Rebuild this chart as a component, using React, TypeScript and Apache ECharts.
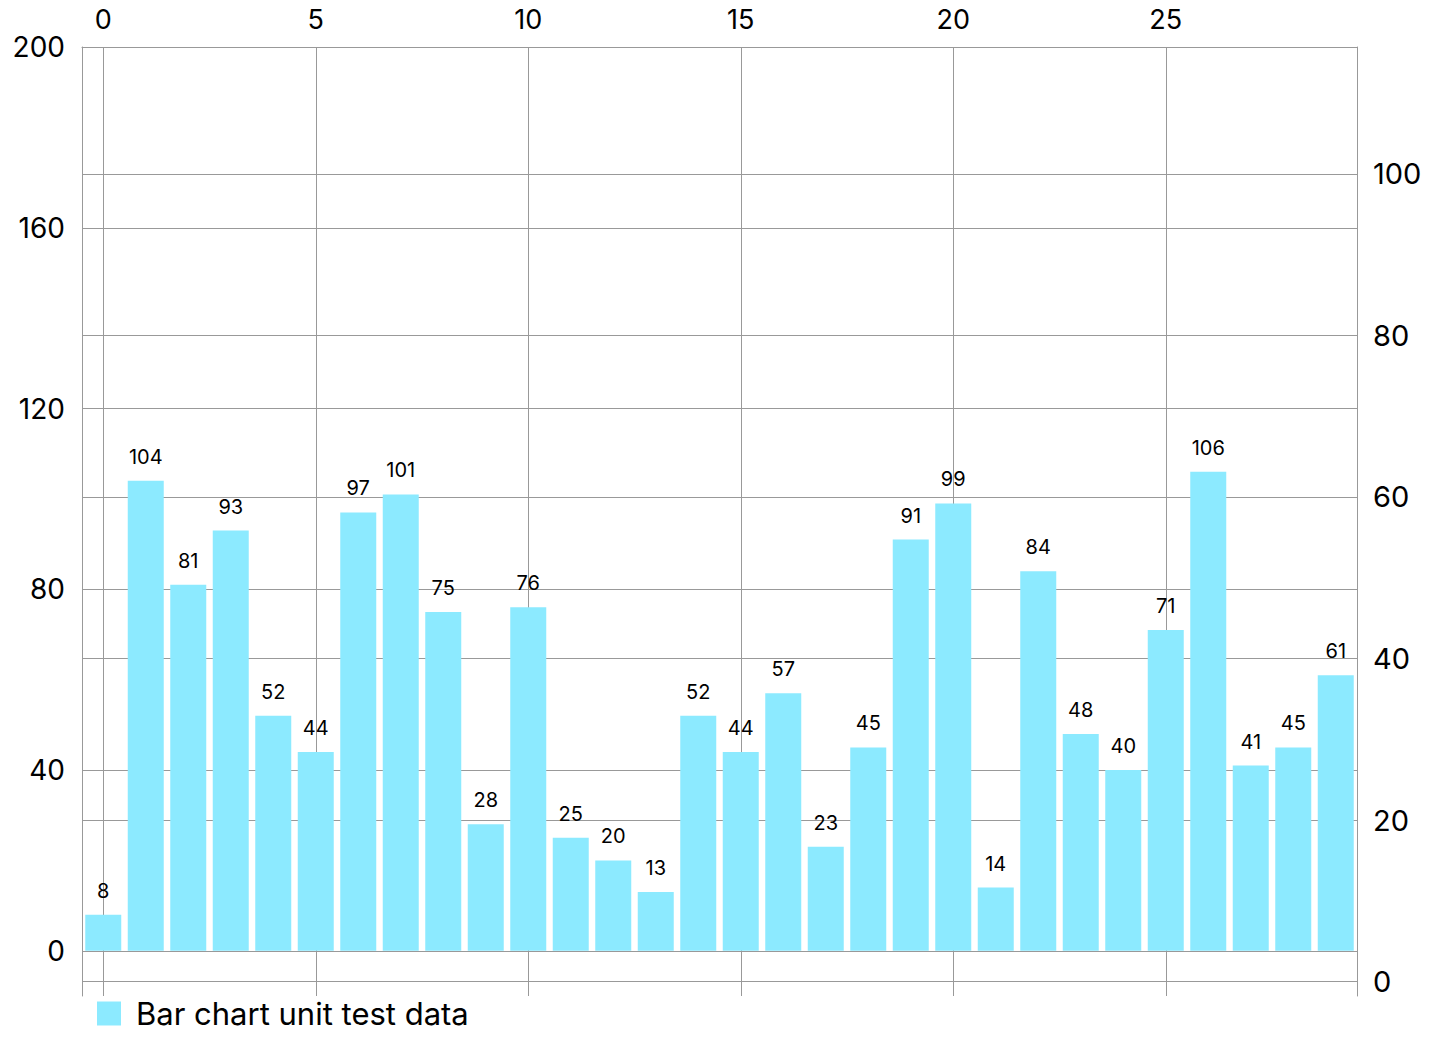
import React, { useEffect, useRef } from "react";
import * as echarts from "echarts";

const xIndices = [0, 1, 2, 3, 4, 5, 6, 7, 8, 9, 10, 11, 12, 13, 14, 15, 16, 17, 18, 19, 20, 21, 22, 23, 24, 25, 26, 27, 28, 29];
const barValues = [8, 104, 81, 93, 52, 44, 97, 101, 75, 28, 76, 25, 20, 13, 52, 44, 57, 23, 45, 91, 99, 14, 84, 48, 40, 71, 106, 41, 45, 61];
const xTicks = [0, 5, 10, 15, 20, 25];
const leftTicks = [0, 40, 80, 120, 160, 200];
const rightTicks = [0, 20, 40, 60, 80, 100];
const seriesName = "Bar chart unit test data";

const FONT = "Inter";
const GRID = "#999999";

export default function App() {
  const ref = useRef<HTMLDivElement>(null);
  useEffect(() => {
    if (!ref.current) return;
    const chart = echarts.init(ref.current, null, { renderer: "svg" });
    const lineStyle = { color: GRID, width: 1 };
    chart.setOption({
      animation: false,
      backgroundColor: "#ffffff",
      grid: { left: 82, right: 83, top: 47, bottom: 54, containLabel: false },
      legend: {
        show: true,
        left: 97,
        top: 998,
        padding: 0,
        itemWidth: 24,
        itemHeight: 24,
        icon: "rect",
        data: [seriesName],
        textStyle: { fontFamily: FONT, fontSize: 31, color: "#000", padding: [0, 0, 0, 10] },
      },
      xAxis: {
        type: "value",
        position: "top",
        min: -0.5,
        max: 29.5,
        axisLine: { show: true, onZero: false, lineStyle },
        axisTick: { show: false, customValues: xTicks },
        axisLabel: { customValues: xTicks, fontFamily: FONT, fontSize: 27, color: "#000", margin: 14 },
        splitLine: { show: true, lineStyle },
      },
      yAxis: [
        {
          type: "value",
          position: "left",
          min: -10,
          max: 200,
          axisLine: { show: true, onZero: false, lineStyle },
          axisTick: { show: false, customValues: leftTicks },
          axisLabel: { customValues: leftTicks, fontFamily: FONT, fontSize: 28, color: "#000", margin: 17 },
          splitLine: { show: true, lineStyle },
        },
        {
          type: "value",
          position: "right",
          min: -1.78,
          max: 115.7,
          axisLine: { show: true, onZero: false, lineStyle },
          axisTick: { show: false, customValues: rightTicks },
          axisLabel: { customValues: rightTicks, fontFamily: FONT, fontSize: 29, color: "#000", margin: 16 },
          splitLine: { show: true, lineStyle },
        },
      ],
      series: [
        {
          name: seriesName,
          type: "bar",
          xAxisIndex: 0,
          yAxisIndex: 0,
          barWidth: 36,
          itemStyle: { color: "#8CEAFF" },
          label: {
            show: true,
            position: "top",
            distance: 14,
            fontFamily: FONT,
            fontSize: 20,
            color: "#000",
          },
          data: xIndices.map((x, i) => [x, barValues[i]]),
        },
      ],
    });
    return () => chart.dispose();
  }, []);
  return (
    <div
      ref={ref}
      style={{ position: "fixed", left: 0, top: 0, width: 1440, height: 1050 }}
    />
  );
}
